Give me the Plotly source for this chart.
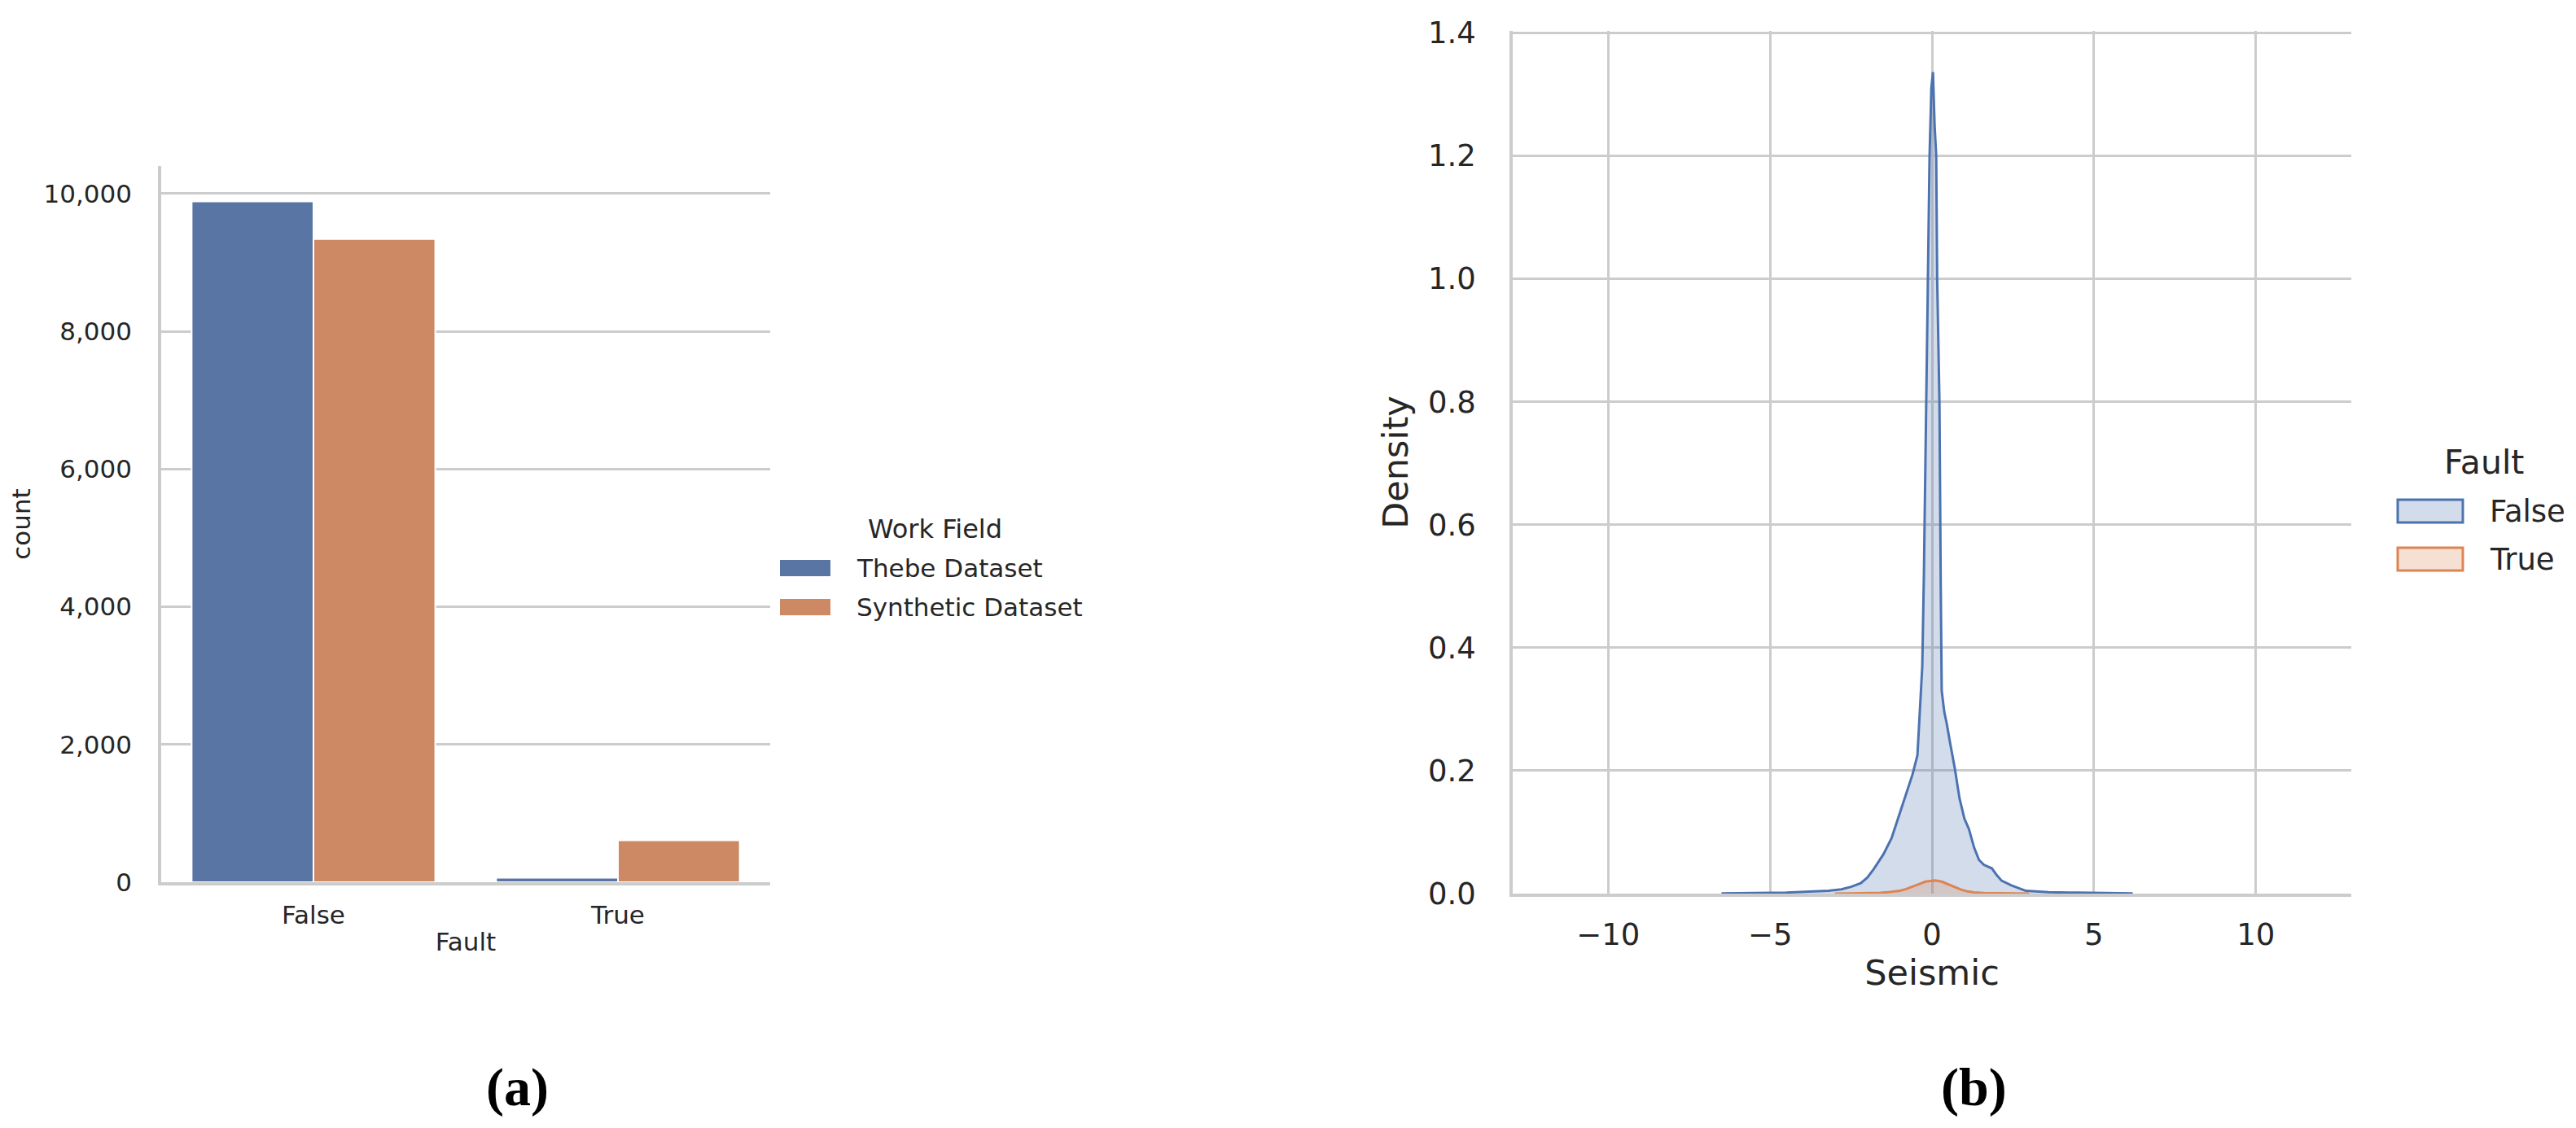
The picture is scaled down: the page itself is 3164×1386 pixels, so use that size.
import plotly.graph_objects as go

# ---------------- data ----------------
categories = ["False", "True"]
bar_series_names = ["Thebe Dataset", "Synthetic Dataset"]
thebe_counts = [9885, 65]
synthetic_counts = [9340, 610]
count_ticks = [0, 2000, 4000, 6000, 8000, 10000]

kde_series_names = ["False", "True"]
kde_false_x = [-6.5, -6.0, -5.0, -4.5, -4.0, -3.6, -3.2, -2.8, -2.5, -2.2, -2.0, -1.8,
               -1.5, -1.25, -1.0, -0.8, -0.6, -0.45, -0.38, -0.3, -0.25, -0.18, -0.12,
               -0.075, -0.02, 0.03, 0.08, 0.13, 0.16, 0.23, 0.27, 0.3, 0.38, 0.45, 0.56,
               0.7, 0.85, 1.0, 1.14, 1.3, 1.45, 1.6, 1.85, 2.0, 2.15, 2.45, 2.9, 3.6,
               4.5, 5.5, 6.2]
kde_false_y = [0.0004, 0.001, 0.0013, 0.0017, 0.003, 0.0038, 0.0045, 0.007, 0.011, 0.017,
               0.026, 0.040, 0.064, 0.090, 0.130, 0.162, 0.194, 0.225, 0.29, 0.37, 0.52,
               0.80, 1.0, 1.2, 1.31, 1.336, 1.25, 1.2, 1.0, 0.8, 0.5, 0.33, 0.295, 0.278,
               0.245, 0.205, 0.155, 0.122, 0.105, 0.075, 0.055, 0.047, 0.041, 0.030,
               0.021, 0.0135, 0.0045, 0.0022, 0.0015, 0.0011, 0.0004]
kde_true_x = [-3.0, -2.5, -2.0, -1.6, -1.3, -1.0, -0.8, -0.6, -0.4, -0.2, 0.0, 0.1, 0.3,
              0.5, 0.7, 0.9, 1.1, 1.3, 1.6, 2.0, 2.5, 3.0]
kde_true_y = [0.0001, 0.0003, 0.0007, 0.0012, 0.0025, 0.0045, 0.0075, 0.011, 0.0155,
              0.0195, 0.0212, 0.0214, 0.0195, 0.015, 0.0105, 0.0065, 0.0035, 0.002,
              0.0009, 0.0004, 0.0002, 0.0001]
density_ticks = [0.0, 0.2, 0.4, 0.6, 0.8, 1.0, 1.2, 1.4]
seismic_ticks = [-10, -5, 0, 5, 10]

# ---------------- styles ----------------
PAGE_W, PAGE_H = 3164, 1386
BODY = 8  # default browser body margin
W, H = PAGE_W - 2 * BODY, PAGE_H - 2 * BODY
FONT = "DejaVu Sans"
TXT = "#262626"
GRID = "#cccccc"
BAR_BLUE, BAR_ORANGE = "#5975a4", "#cc8963"
KDE_BLUE, KDE_ORANGE = "#4c72b0", "#dd8452"
FILL_BLUE, FILL_ORANGE = "rgba(76,114,176,0.25)", "rgba(221,132,82,0.25)"


def px(x):
    return (x - BODY) / W


def py(y):
    return 1 - (y - BODY) / H


fig = go.Figure()

fig.add_trace(go.Bar(x=categories, y=thebe_counts, name=bar_series_names[0],
                     marker=dict(color=BAR_BLUE, line=dict(color="white", width=2)),
                     xaxis="x", yaxis="y", showlegend=False))
fig.add_trace(go.Bar(x=categories, y=synthetic_counts, name=bar_series_names[1],
                     marker=dict(color=BAR_ORANGE, line=dict(color="white", width=2)),
                     xaxis="x", yaxis="y", showlegend=False))

fig.add_trace(go.Scatter(x=kde_false_x, y=kde_false_y, name=kde_series_names[0],
                         mode="lines", line=dict(color=KDE_BLUE, width=3),
                         fill="tozeroy", fillcolor=FILL_BLUE,
                         xaxis="x2", yaxis="y2", showlegend=False))
fig.add_trace(go.Scatter(x=kde_true_x, y=kde_true_y, name=kde_series_names[1],
                         mode="lines", line=dict(color=KDE_ORANGE, width=3),
                         fill="tozeroy", fillcolor=FILL_ORANGE,
                         xaxis="x2", yaxis="y2", showlegend=False))

left_font = dict(family=FONT, size=31, color=TXT)
right_tick_font = dict(family=FONT, size=37, color=TXT)
right_title_font = dict(family=FONT, size=43, color=TXT)

fig.update_layout(
    width=W, height=H, autosize=False,
    margin=dict(l=0, r=0, t=0, b=0),
    paper_bgcolor="white", plot_bgcolor="white",
    font=dict(family=FONT, color=TXT),
    barmode="group", bargap=0.2, bargroupgap=0,
    xaxis=dict(domain=[px(198), px(946)], anchor="y", type="category",
               range=[-0.5, 1.5], showgrid=False, zeroline=False,
               showline=True, linecolor=GRID, linewidth=3.5,
               ticks="", tickfont=left_font, ticklabelstandoff=10,
               title=dict(text="Fault", font=left_font, standoff=6),
               automargin=False),
    yaxis=dict(domain=[py(1084), py(204)], anchor="x", range=[0, 10400],
               tickvals=count_ticks, tickformat=",d",
               showgrid=True, gridcolor=GRID, gridwidth=2.5, zeroline=False,
               showline=True, linecolor=GRID, linewidth=3.5,
               ticks="", tickfont=left_font, ticklabelstandoff=26,
               title=dict(text="count", font=left_font, standoff=14),
               automargin=False),
    xaxis2=dict(domain=[px(1858), px(2888)], anchor="y2", range=[-12.95, 12.95],
                tickvals=seismic_ticks,
                showgrid=True, gridcolor=GRID, gridwidth=2.5, zeroline=False,
                showline=True, linecolor=GRID, linewidth=3.5,
                ticks="", tickfont=right_tick_font, ticklabelstandoff=15,
                title=dict(text="Seismic", font=right_title_font, standoff=10),
                automargin=False),
    yaxis2=dict(domain=[py(1098), py(38)], anchor="x2", range=[0, 1.403],
                tickvals=density_ticks, tickformat=".1f",
                showgrid=True, gridcolor=GRID, gridwidth=2.5, zeroline=False,
                showline=True, linecolor=GRID, linewidth=3.5,
                ticks="", tickfont=right_tick_font, ticklabelstandoff=34,
                title=dict(text="Density", font=right_title_font, standoff=12),
                automargin=False),
)

shapes = []
annotations = []

# legend (a)
annotations.append(dict(text="Work Field", x=px(1148), y=py(650), xref="paper", yref="paper",
                        xanchor="center", yanchor="middle", showarrow=False,
                        font=dict(family=FONT, size=32, color=TXT)))
for name, col, yc in [(bar_series_names[0], BAR_BLUE, 698), (bar_series_names[1], BAR_ORANGE, 746)]:
    shapes.append(dict(type="rect", xref="paper", yref="paper",
                       x0=px(958), x1=px(1020), y0=py(yc + 10), y1=py(yc - 10),
                       fillcolor=col, line=dict(width=0)))
    annotations.append(dict(text=name, x=px(1050), y=py(yc), xref="paper", yref="paper",
                            xanchor="left", yanchor="middle", showarrow=False,
                            font=dict(family=FONT, size=31, color=TXT)))

# legend (b)
annotations.append(dict(text="Fault", x=px(3051), y=py(568), xref="paper", yref="paper",
                        xanchor="center", yanchor="middle", showarrow=False,
                        font=dict(family=FONT, size=41, color=TXT)))
for name, lc, fc, yc in [(kde_series_names[0], KDE_BLUE, FILL_BLUE, 628),
                         (kde_series_names[1], KDE_ORANGE, FILL_ORANGE, 687)]:
    shapes.append(dict(type="rect", xref="paper", yref="paper",
                       x0=px(2945), x1=px(3025), y0=py(yc + 14), y1=py(yc - 14),
                       fillcolor=fc, line=dict(color=lc, width=3)))
    annotations.append(dict(text=name, x=px(3056), y=py(yc), xref="paper", yref="paper",
                            xanchor="left", yanchor="middle", showarrow=False,
                            font=dict(family=FONT, size=37, color=TXT)))

# sub-figure captions
for label, xc in [("<b>(a)</b>", 635), ("<b>(b)</b>", 2424)]:
    annotations.append(dict(text=label, x=px(xc), y=py(1336), xref="paper", yref="paper",
                            xanchor="center", yanchor="middle", showarrow=False,
                            font=dict(family="Liberation Serif", size=66, color="black")))

fig.update_layout(shapes=shapes, annotations=annotations)

fig.write_html("out.html")
